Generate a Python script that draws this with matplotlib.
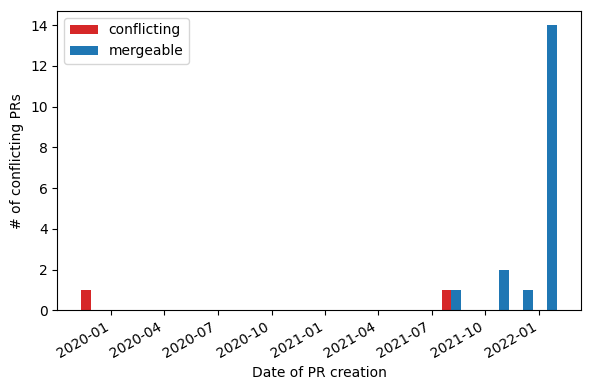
import matplotlib
matplotlib.use("Agg")
import matplotlib.pyplot as plt
import pandas as pd

conflicting_dates = ["2019-11-07", "2021-07-25"]
mergeable_dates = [
    "2021-07-28",
    "2021-10-20", "2021-11-03",
    "2021-12-01",
    "2021-12-28", "2022-01-03", "2022-01-05", "2022-01-08", "2022-01-10",
    "2022-01-12", "2022-01-14", "2022-01-17", "2022-01-19", "2022-01-21",
    "2022-01-24", "2022-01-26", "2022-01-31", "2022-02-04",
]
labels = ["conflicting", "mergeable"]
colors = ["tab:red", "tab:blue"]
n_bins = 20

conf = pd.to_datetime(conflicting_dates).to_pydatetime()
merg = pd.to_datetime(mergeable_dates).to_pydatetime()

fig, ax = plt.subplots(figsize=(5.9, 3.9), dpi=100)
ax.hist([conf, merg], bins=n_bins, color=colors, label=labels)
ax.set_xlabel("Date of PR creation")
ax.set_ylabel("# of conflicting PRs")
ax.legend(loc="upper left")
fig.autofmt_xdate()
fig.subplots_adjust(left=0.0971, right=0.9842, top=0.9718, bottom=0.2044)
fig.savefig("out.png")
